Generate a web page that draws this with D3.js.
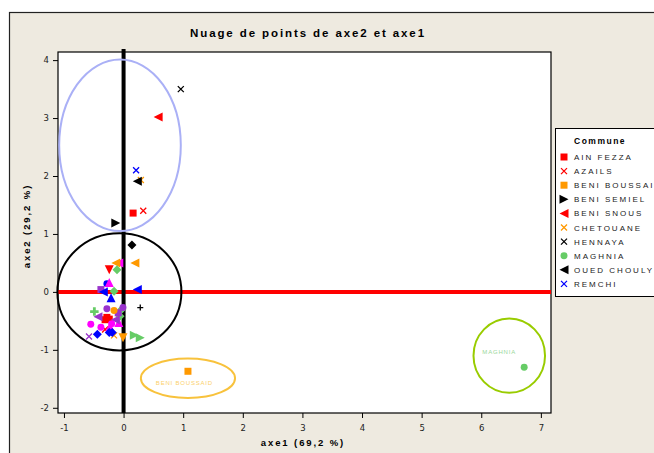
<!DOCTYPE html>
<html>
<head>
<meta charset="utf-8">
<script src="https://cdn.jsdelivr.net/npm/d3@7"></script>
<style>
  body { margin: 0; background: #fff; }
  svg text { font-family: "Liberation Sans", Arial, sans-serif; }
</style>
</head>
<body>
<div id="chart"></div>
<script>
// tick labels
var xTicks = [-1, 0, 1, 2, 3, 4, 5, 6, 7];
var yTicks = [-2, -1, 0, 1, 2, 3, 4];

// communes, in legend order (the legend box is clipped after REMCHI)
var communes = ["AIN FEZZA", "AZAILS", "BENI BOUSSAID", "BENI SEMIEL", "BENI SNOUS",
                "CHETOUANE", "HENNAYA", "MAGHNIA", "OUED CHOULY", "REMCHI",
                "S11", "S12", "S13", "S14", "S15", "S16", "S17", "S18", "S19", "S20",
                "S21", "S22", "S23", "S24", "S25", "S26", "S27"];
var legendLabels = ["AIN FEZZA", "AZAILS", "BENI BOUSSAI", "BENI SEMIEL", "BENI SNOUS",
                    "CHETOUANE", "HENNAYA", "MAGHNIA", "OUED CHOULY", "REMCHI"];

// points per series : [axe1, axe2]
var ainFezza   = [[0.16, 1.36], [-0.28, -0.44], [-0.31, -0.48], [-0.24, -0.47]];
var azails     = [[0.33, 1.40], [-0.31, -0.65]];
var beniBouss  = [[1.08, -1.37]];
var beniSemiel = [[-0.13, 1.19]];
var beniSnous  = [[0.58, 3.02]];
var chetouane  = [[0.29, 1.93], [-0.16, -0.75]];
var hennaya    = [[0.96, 3.50]];
var maghnia    = [[6.72, -1.30]];
var ouedChouly = [[0.23, 1.91]];
var remchi     = [[0.21, 2.10]];
var s11 = [[0.14, 0.81]];
var s12 = [[-0.08, 0.50]];
var s13 = [[-0.13, 0.50], [0.19, 0.50]];
var s14 = [[-0.24, 0.38]];
var s15 = [[-0.11, 0.38], [-0.16, 0.01], [-0.06, -0.42], [-0.03, -0.30]];
var s16 = [[-0.28, 0.14]];
var s17 = [[-0.24, 0.16], [-0.23, -0.60], [-0.08, -0.53]];
var s18 = [[-0.38, 0.04], [-0.09, -0.36]];
var s19 = [[-0.34, 0.00], [0.23, 0.04]];
var s20 = [[-0.21, -0.10]];
var s21 = [[-0.49, -0.34]];
var s22 = [[-0.28, -0.29], [-0.01, -0.27]];
var s23 = [[-0.16, -0.32]];
var s24 = [[-0.43, -0.43], [-0.14, -0.48]];
var s25 = [[-0.55, -0.56], [-0.38, -0.61], [-0.20, -0.55]];
var s26 = [[-0.24, -0.70], [-0.19, -0.70], [-0.44, -0.73]];
var s27 = [[-0.58, -0.77], [-0.01, -0.79], [0.18, -0.75], [0.28, -0.79], [0.28, -0.27]];

var seriesPoints = [ainFezza, azails, beniBouss, beniSemiel, beniSnous, chetouane, hennaya,
                    maghnia, ouedChouly, remchi, s11, s12, s13, s14, s15, s16, s17, s18,
                    s19, s20, s21, s22, s23, s24, s25, s26, s27];

// marker style per series
var styles = [
    {c: "#ff0000", s: "square"}, {c: "#ff0000", s: "cross"}, {c: "#ff9900", s: "square"},
    {c: "#000000", s: "right"}, {c: "#ff0000", s: "left"}, {c: "#ff9900", s: "cross"},
    {c: "#000000", s: "cross"}, {c: "#66cc66", s: "circle"}, {c: "#000000", s: "left"},
    {c: "#0000ff", s: "cross"}, {c: "#000000", s: "diamond"}, {c: "#ff00ff", s: "left"},
    {c: "#ff9900", s: "left"}, {c: "#ff0000", s: "down"}, {c: "#66cc66", s: "diamond"},
    {c: "#0000ff", s: "circle"}, {c: "#ff00ff", s: "up"}, {c: "#9933cc", s: "square"},
    {c: "#0000ff", s: "left"}, {c: "#0000ff", s: "up"}, {c: "#66cc66", s: "star"},
    {c: "#9933cc", s: "circle"}, {c: "#ff9900", s: "circle"}, {c: "#9933cc", s: "left"},
    {c: "#ff00ff", s: "circle"}, {c: "#0000ff", s: "diamond"}, {c: "#9933cc", s: "cross"}
];
// per-point overrides in the last series (mixed shapes)
var s27styles = [{c: "#9933cc", s: "cross"}, {c: "#ff9900", s: "down"},
                 {c: "#66cc66", s: "right"}, {c: "#66cc66", s: "right"}, {c: "#000000", s: "plus"}];

// annotation ellipses : centre and radii in data units
var ellipses = [
    {cx: -0.06, cy: 2.53, rx: 1.02, ry: 1.48, col: "#aab0f6"},
    {cx: -0.07, cy: 0.00, rx: 1.04, ry: 1.01, col: "#000000"},
    {cx: 1.08, cy: -1.49, rx: 0.79, ry: 0.34, col: "#f8c23c"},
    {cx: 6.47, cy: -1.10, rx: 0.60, ry: 0.64, col: "#99cc00"}
];
var notes = [
    {x: 1.02, y: -1.61, t: "BENI BOUSSAID", col: "#fbcf6a"},
    {x: 6.30, y: -1.07, t: "MAGHNIA", col: "#9ad89a"}
];

var W = 654, H = 453;
var svg = d3.select("#chart").append("svg").attr("width", W).attr("height", H);

// beige frame
svg.append("rect").attr("x", 9.5).attr("y", 12.5).attr("width", W).attr("height", H)
    .attr("fill", "#eeeae0").attr("stroke", "#222").attr("stroke-width", 1.2);

var x = d3.scaleLinear().domain([-1.1, 7.17]).range([58, 551]);
var y = d3.scaleLinear().domain([-2.09, 4.14]).range([413, 52]);

svg.append("rect").attr("x", 58).attr("y", 52).attr("width", 493).attr("height", 361)
    .attr("fill", "#fff").attr("stroke", "#000").attr("stroke-width", 1.2);

// axes
var xAxis = svg.append("g").attr("transform", "translate(0,413)")
    .call(d3.axisBottom(x).tickValues(xTicks).tickSize(5).tickPadding(7).tickFormat(d3.format("d")));
var yAxis = svg.append("g").attr("transform", "translate(58,0)")
    .call(d3.axisLeft(y).tickValues(yTicks).tickSize(5).tickPadding(4).tickFormat(d3.format("d")));
[xAxis, yAxis].forEach(function (g) {
    g.select(".domain").remove();
    g.selectAll("line").attr("stroke", "#000");
    g.selectAll("text").attr("font-size", 8.5).attr("fill", "#222")
        .style("font-family", "'DejaVu Sans', sans-serif").text(function (d) { return d < 0 ? "-" + (-d) : d; });
});

// titles
svg.append("text").attr("x", 308).attr("y", 37).attr("text-anchor", "middle")
    .attr("font-size", 11.5).attr("font-weight", "bold").attr("letter-spacing", 1.9)
    .text("Nuage de points de axe2 et axe1");
svg.append("text").attr("x", 303).attr("y", 446).attr("text-anchor", "middle")
    .attr("font-size", 9.5).attr("font-weight", "bold").attr("letter-spacing", 1.9)
    .text("axe1 (69,2 %)");
svg.append("text").attr("transform", "translate(30,226) rotate(-90)").attr("text-anchor", "middle")
    .attr("font-size", 9.5).attr("font-weight", "bold").attr("letter-spacing", 1.9)
    .text("axe2 (29,2 %)");

// reference lines
svg.append("line").attr("x1", x(-1.1)).attr("x2", x(7.17)).attr("y1", y(0)).attr("y2", y(0))
    .attr("stroke", "#ff0000").attr("stroke-width", 4);
svg.append("line").attr("x1", x(0)).attr("x2", x(0)).attr("y1", y(4.19)).attr("y2", y(-2.09))
    .attr("stroke", "#000").attr("stroke-width", 4);

// ellipses
svg.append("g").selectAll("ellipse").data(ellipses).enter().append("ellipse")
    .attr("cx", function (d) { return x(d.cx); })
    .attr("cy", function (d) { return y(d.cy); })
    .attr("rx", function (d) { return x(d.rx) - x(0); })
    .attr("ry", function (d) { return y(0) - y(d.ry); })
    .attr("fill", "none").attr("stroke", function (d) { return d.col; }).attr("stroke-width", 2);

svg.append("g").selectAll("text").data(notes).enter().append("text")
    .attr("x", function (d) { return x(d.x); })
    .attr("y", function (d) { return y(d.y); })
    .attr("text-anchor", "middle").attr("font-size", 6).attr("letter-spacing", 0.8)
    .attr("fill", function (d) { return d.col; })
    .text(function (d) { return d.t; });

// marker shapes
function shapePath(s) {
    var r = 4.5;
    switch (s) {
        case "square": return "M-3.5,-3.5H3.5V3.5H-3.5Z";
        case "circle": return d3.symbol().type(d3.symbolCircle).size(38)();
        case "diamond": return "M0,-4.5L4.5,0L0,4.5L-4.5,0Z";
        case "up": return "M0,-" + r + "L" + r + "," + r + "L-" + r + "," + r + "Z";
        case "down": return "M0," + r + "L" + r + ",-" + r + "L-" + r + ",-" + r + "Z";
        case "left": return "M-" + r + ",0L" + r + ",-" + r + "L" + r + "," + r + "Z";
        case "right": return "M" + r + ",0L-" + r + ",-" + r + "L-" + r + "," + r + "Z";
        case "cross": return "M-3,-3L3,3M3,-3L-3,3";
        case "plus": return "M-3,0H3M0,-3V3";
        case "star": return d3.symbol().type(d3.symbolCross).size(40)();
    }
}
function drawMarker(g, st) {
    var line = st.s === "cross" || st.s === "plus";
    g.append("path").attr("d", shapePath(st.s))
        .attr("fill", line ? "none" : st.c)
        .attr("stroke", line ? st.c : "none")
        .attr("stroke-width", 1.3);
}

var pts = svg.append("g");
seriesPoints.forEach(function (arr, i) {
    arr.forEach(function (p, j) {
        var st = (i === seriesPoints.length - 1) ? s27styles[j] : styles[i];
        var g = pts.append("g").attr("transform", "translate(" + x(p[0]) + "," + y(p[1]) + ")");
        drawMarker(g, st);
    });
});

// legend (box runs past the right edge of the window)
var lg = svg.append("g");
lg.append("rect").attr("x", 555.5).attr("y", 128.5).attr("width", 120).attr("height", 168)
    .attr("fill", "#fff").attr("stroke", "#000").attr("stroke-width", 1);
lg.append("text").attr("x", 574).attr("y", 144).attr("font-size", 8.5).attr("font-weight", "bold")
    .attr("letter-spacing", 1.5).text("Commune");
legendLabels.forEach(function (name, i) {
    var yy = 157 + i * 14.1;
    var g = lg.append("g").attr("transform", "translate(564," + yy + ")");
    drawMarker(g, styles[i]);
    lg.append("text").attr("x", 574).attr("y", yy + 3).attr("font-size", 8)
        .attr("letter-spacing", 2).attr("fill", "#222").text(name);
});
</script>
</body>
</html>
